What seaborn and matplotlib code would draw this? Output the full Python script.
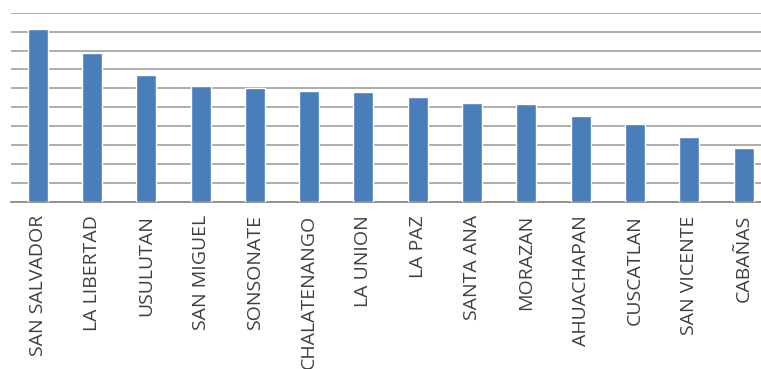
import matplotlib
matplotlib.use("Agg")
import matplotlib.pyplot as plt
import seaborn as sns
import pandas as pd

departamentos = ["SAN SALVADOR", "LA LIBERTAD", "USULUTAN", "SAN MIGUEL", "SONSONATE",
                 "CHALATENANGO", "LA UNION", "LA PAZ", "SANTA ANA", "MORAZAN",
                 "AHUACHAPAN", "CUSCATLAN", "SAN VICENTE", "CABAÑAS"]
valores = [9.12, 7.85, 6.71, 6.13, 6.04, 5.86, 5.81, 5.53, 5.25, 5.16, 4.53, 4.14, 3.42, 2.84]

df = pd.DataFrame({"departamento": departamentos, "valor": valores})

sns.set_style("white")
plt.rcParams["font.family"] = ["Open Sans", "DejaVu Sans"]

fig = plt.figure(figsize=(7.61, 3.69), dpi=100)
W, H = 761, 369
ax = fig.add_axes([10.5 / W, (H - 202) / H, (770.7 - 10.5) / W, (202 - 12.7) / H])

sns.barplot(data=df, x="departamento", y="valor", color="#4a7ebb", saturation=1,
            width=0.37, ax=ax, zorder=3)

ax.set_ylim(0, 10)
ax.set_xlim(-0.5, len(departamentos) - 0.5)
ax.set_yticks(range(0, 11))
ax.yaxis.grid(True, color="#a6a6a6", linewidth=1.3, zorder=0)
ax.set_axisbelow(True)
ax.tick_params(axis="y", left=False, labelleft=False)
ax.tick_params(axis="x", length=0, pad=9.5, labelsize=14, labelcolor="#404040")
for lbl in ax.get_xticklabels():
    lbl.set_rotation(90)
    lbl.set_va("top")
    lbl.set_ha("center")
ax.set_xlabel("")
ax.set_ylabel("")
for side in ["left", "right", "top"]:
    ax.spines[side].set_visible(False)
ax.spines["bottom"].set_color("#8c8c8c")
ax.spines["bottom"].set_linewidth(1.3)

fig.savefig("out.png", dpi=100)
